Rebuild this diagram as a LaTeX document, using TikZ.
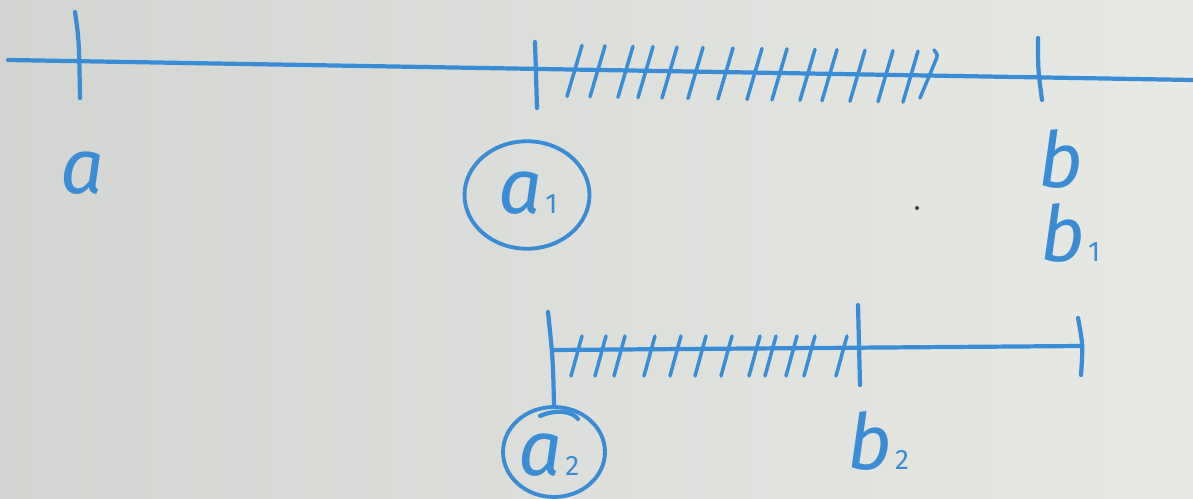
\documentclass[tikz,border=0pt]{standalone}
\usepackage{fontspec}
\usetikzlibrary{shapes.geometric}
\newfontfamily\hand{Fira Sans}
\definecolor{ink}{RGB}{58,140,212}
\definecolor{paperL}{RGB}{210,213,209}
\definecolor{paperR}{RGB}{231,233,229}
% small index written next to a letter
\newcommand{\idx}[1]{\kern0.04em{\fontsize{16}{18}\selectfont\upshape #1}}
\begin{document}
\begin{tikzpicture}[x=0.02cm,y=-0.02cm,
  inkline/.style={draw=ink,line width=2.4pt,line cap=round,line join=round},
  hatch/.style={draw=ink,line width=2pt,line cap=round},
  lab/.style={text=ink,font=\hand\itshape\fontsize{44}{48}\selectfont,inner sep=0pt,anchor=base west},
  ring/.style={ellipse,draw=ink,line width=2.2pt,inner sep=0pt}]
% paper
\shade[left color=paperL,right color=paperR] (0,0) rectangle (1193,499);
\useasboundingbox (0,0) rectangle (1193,499);

% ---- upper axis ----
\coordinate (L0) at (8,60);
\coordinate (L1) at (1193,80);
\draw[inkline] (L0) -- (L1);
\coordinate (ta1) at (75,12);  \coordinate (ta2) at (80,98);
\coordinate (tb1) at (535,42); \coordinate (tb2) at (537,108);
\coordinate (tc1) at (1038,38);\coordinate (tc2) at (1042,100);
\draw[inkline] (ta1) .. controls (79,40) .. (ta2);
\draw[inkline] (tb1) -- (tb2);
\draw[inkline] (tc1) .. controls (1038,70) .. (tc2);
% hatching on [a1,b]
\foreach \x in {567,590,618,638,662,688,718,747,772,800,822,850,878,903}{
  \pgfmathsetmacro{\yl}{60+(\x-8)/1185*20}
  \draw[hatch] (\x,\yl+27) -- (\x+15,\yl-24);
}
\draw[hatch] (920,98) -- (935,62) .. controls (938,55) .. (934,50);

% labels of upper axis
\node[lab] (a) at (60,194) {a};
\node[ring,minimum width=2.5cm,minimum height=2.15cm] (a1ring) at (527,195) {};
\node[lab] (a1) at (498,214) {a\idx{1}};
\node[lab] (b) at (1038,188) {b};
\node[lab] (b1) at (1040,262) {b\idx{1}};
\fill[black!75] (917,208) circle (2);

% ---- lower segment ----
\coordinate (M0) at (553,350);
\coordinate (M1) at (1082,346);
\draw[inkline] (M0) -- (M1);
\node[ring,minimum width=2.04cm,minimum height=1.8cm] (a2ring) at (554,452) {};
\coordinate (sa1) at (548,312);
\draw[inkline] (sa1) .. controls (553,360) .. (a2ring.north);
\draw[inkline] (540,416) .. controls (556,409) and (572,411) .. (578,419);
\draw[inkline] (858,305) -- (860,385);
\draw[inkline] (1078,318) .. controls (1083,345) .. (1081,375);
\foreach \x in {571,595,614,644,670,695,721,749,765,786,804,836}{
  \draw[hatch] (\x,376) -- (\x+11,336);
}
\node[lab] (a2) at (518,476) {a\idx{2}};
\node[lab] (b2) at (847,470) {b\idx{2}};
\end{tikzpicture}
\end{document}
